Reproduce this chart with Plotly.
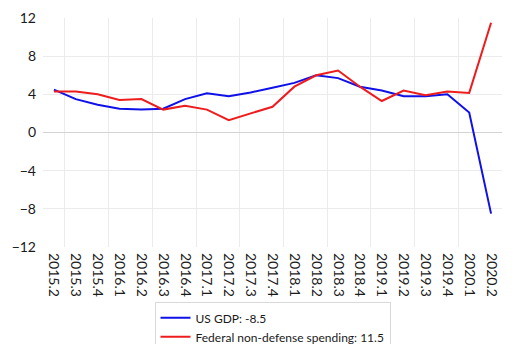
import plotly.graph_objects as go

quarters = [
    "2015.2", "2015.3", "2015.4", "2016.1", "2016.2", "2016.3", "2016.4",
    "2017.1", "2017.2", "2017.3", "2017.4", "2018.1", "2018.2", "2018.3",
    "2018.4", "2019.1", "2019.2", "2019.3", "2019.4", "2020.1", "2020.2",
]
us_gdp = [4.5, 3.5, 2.9, 2.5, 2.4, 2.5, 3.5, 4.1, 3.8, 4.2, 4.7,
          5.2, 6.0, 5.7, 4.8, 4.4, 3.8, 3.8, 4.0, 2.1, -8.5]
federal_nondefense = [4.3, 4.3, 4.0, 3.4, 3.5, 2.4, 2.8, 2.4, 1.3, 2.0, 2.7,
                      4.8, 6.0, 6.5, 4.8, 3.3, 4.4, 3.9, 4.3, 4.15, 11.5]
y_ticks = [-12, -8, -4, 0, 4, 8, 12]

idx = list(range(len(quarters)))

fig = go.Figure()
fig.add_trace(go.Scatter(
    x=idx, y=us_gdp, mode="lines", name=f"US GDP: {us_gdp[-1]}",
    line=dict(color="#1010e8", width=2),
))
fig.add_trace(go.Scatter(
    x=idx, y=federal_nondefense, mode="lines",
    name=f"Federal non-defense spending: {federal_nondefense[-1]}",
    line=dict(color="#ee1c1c", width=2),
))

# page body has an 8px default margin, so the figure is a bit smaller than the window
fig.update_layout(
    width=517, height=336,
    margin=dict(l=35, r=23, t=10, b=97, autoexpand=False),
    paper_bgcolor="white", plot_bgcolor="white",
    font=dict(family="Lato, Open Sans, sans-serif", size=14, color="#1a1a1a"),
    legend=dict(
        x=0.5, xanchor="center", y=0.124, yanchor="top", yref="container",
        bordercolor="#d9d9d9", borderwidth=1, font=dict(size=12),
        tracegroupgap=0,
    ),
    showlegend=True,
)
fig.update_xaxes(
    range=[-0.5, len(quarters) - 0.5], automargin=False,
    tickvals=idx, ticktext=quarters, tickangle=90, ticklabelstandoff=5,
    showgrid=False, zeroline=False, showline=False, ticks="",
    minor=dict(tickvals=[i + 0.5 for i in range(0, len(quarters) - 1, 2)],
               showgrid=True, gridcolor="#ebebeb", gridwidth=1),
)
fig.update_yaxes(
    range=[-12, 12], tickvals=y_ticks, automargin=False,
    showgrid=True, gridcolor="#ebebeb", gridwidth=1,
    zeroline=True, zerolinecolor="#d4d4d4", zerolinewidth=1,
    showline=False, ticks="", ticklabelstandoff=6,
)

fig.write_html("out.html")
